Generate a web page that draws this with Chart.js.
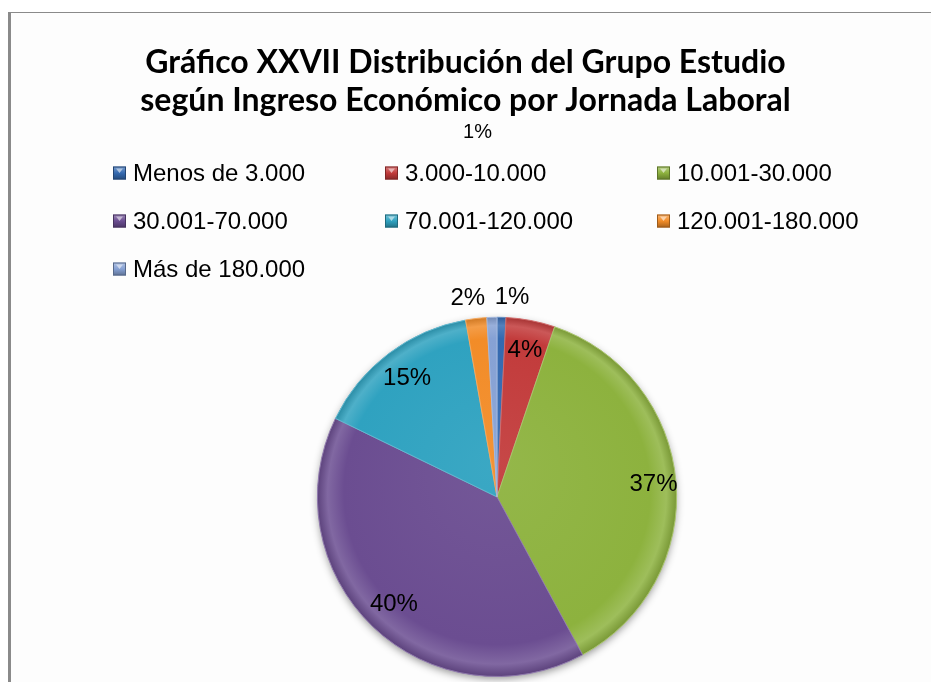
<!DOCTYPE html>
<html lang="es">
<head>
  <meta charset="UTF-8">
  <title>Gráfico XXVII</title>
  <style>
    html, body {
      margin: 0;
      padding: 0;
      background: #ffffff;
    }
    #frame {
      position: absolute;
      left: 8px;
      top: 12px;
      width: 923px;
      height: 670px;
      border-left: 3px solid #8a8a8a;
      border-top: 1px solid #8a8a8a;
      background: #fdfdfd;
    }
    #wrap {
      position: absolute;
      left: 0;
      top: 0;
      width: 931px;
      height: 682px;
    }
  </style>
  <script src="https://cdn.jsdelivr.net/npm/chart.js@4"></script>
</head>
<body>
  <div id="frame"></div>
  <div id="wrap"><canvas id="chart"></canvas></div>

  <script>
    // datos (porcentaje del grupo)
    const categories = ['Menos de 3.000', '3.000-10.000', '10.001-30.000', '30.001-70.000',
                        '70.001-120.000', '120.001-180.000', 'Más de 180.000'];
    const percents = [0.8, 4.4, 36.9, 40.1, 15.0, 1.9, 0.9];
    const sliceColors = ['#3469b0', '#c23b3b', '#8db23e', '#6b4d91', '#2fa2c0', '#f28c28', '#86a1d4'];
    const titleLines = ['Gráfico XXVII Distribución del Grupo Estudio',
                        'según Ingreso Económico por Jornada Laboral'];

    // donde va cada etiqueta: dentro, fuera o arriba (como la puso Excel)
    const labelPlace = ['out', 'in', 'in', 'in', 'in', 'out', 'top'];
    const labelNudge = [10, 0, 8, 0, 0, -6, 0];

    function shade(hex, amt) {
      const n = parseInt(hex.slice(1), 16);
      let r = (n >> 16) & 255, g = (n >> 8) & 255, b = n & 255;
      const f = v => Math.max(0, Math.min(255, Math.round(amt > 0 ? v + (255 - v) * amt : v * (1 + amt))));
      return `rgb(${f(r)}, ${f(g)}, ${f(b)})`;
    }

    // espacio a la izquierda para que el pastel quede algo a la derecha del título
    const leftSpacer = {
      id: 'leftSpacer',
      beforeInit(chart) {
        Chart.layouts.addBox(chart, {
          position: 'left', weight: 0, fullSize: false, options: {},
          left: 0, top: 0, right: 0, bottom: 0, width: 0, height: 0,
          update(maxW, maxH) { this.width = 63; this.height = maxH; },
          isHorizontal() { return false; },
          draw() {}
        });
      }
    };

    // sombra suave debajo del pastel
    const pieShadow = {
      id: 'pieShadow',
      beforeDatasetsDraw(chart) {
        const arc = chart.getDatasetMeta(0).data[0];
        if (!arc) return;
        const ctx = chart.ctx;
        ctx.save();
        ctx.shadowColor = 'rgba(0,0,0,0.45)';
        ctx.shadowBlur = 9;
        ctx.shadowOffsetY = 3;
        ctx.fillStyle = '#777';
        ctx.beginPath();
        ctx.arc(arc.x, arc.y, arc.outerRadius - 1, 0, Math.PI * 2);
        ctx.fill();
        ctx.restore();
      }
    };

    // leyenda en cuadrícula de 3 columnas
    const gridLegend = {
      id: 'gridLegend',
      afterDraw(chart, args, opts) {
        const ctx = chart.ctx;
        ctx.save();
        ctx.font = opts.font;
        ctx.textBaseline = 'middle';
        ctx.textAlign = 'left';
        categories.forEach((name, i) => {
          const col = i % opts.columns;
          const row = Math.floor(i / opts.columns);
          const x = opts.left + col * opts.colWidth;
          const y = opts.top + row * opts.rowHeight;
          const s = opts.box;
          const g = ctx.createLinearGradient(x, y - s / 2, x, y + s / 2);
          g.addColorStop(0, shade(sliceColors[i], 0.35));
          g.addColorStop(0.5, sliceColors[i]);
          g.addColorStop(1, shade(sliceColors[i], -0.3));
          ctx.fillStyle = g;
          ctx.fillRect(x, y - s / 2, s, s);
          ctx.strokeStyle = shade(sliceColors[i], -0.35);
          ctx.lineWidth = 1;
          ctx.strokeRect(x + 0.5, y - s / 2 + 0.5, s - 1, s - 1);
          ctx.fillStyle = shade(sliceColors[i], 0.6);
          ctx.beginPath();
          ctx.moveTo(x + 3, y - s / 2 + 2);
          ctx.lineTo(x + s - 3, y - s / 2 + 2);
          ctx.lineTo(x + s / 2, y);
          ctx.closePath();
          ctx.fill();
          ctx.fillStyle = '#000';
          ctx.fillText(name, x + s + opts.gap, y + 1);
        });
        ctx.restore();
      }
    };

    // etiquetas de porcentaje
    const pctLabels = {
      id: 'pctLabels',
      afterDraw(chart, args, opts) {
        const meta = chart.getDatasetMeta(0);
        const ctx = chart.ctx;
        const total = percents.reduce((a, b) => a + b, 0);
        ctx.save();
        ctx.fillStyle = '#000';
        ctx.textAlign = 'center';
        ctx.textBaseline = 'middle';
        meta.data.forEach((arc, i) => {
          const text = Math.round(percents[i] / total * 100) + '%';
          const mid = (arc.startAngle + arc.endAngle) / 2;
          let x, y;
          ctx.font = opts.font;
          if (labelPlace[i] === 'in') {
            const r = arc.outerRadius * 0.83;
            x = arc.x + Math.cos(mid) * r;
            y = arc.y + Math.sin(mid) * r;
          } else if (labelPlace[i] === 'out') {
            const r = arc.outerRadius + 20;
            x = arc.x + Math.cos(mid) * r;
            y = arc.y + Math.sin(mid) * r;
          } else {
            ctx.font = opts.smallFont;
            x = chart.titleBlock.left + chart.titleBlock.width / 2 + 12;
            y = opts.topY;
          }
          ctx.fillText(text, x + labelNudge[i], y);
        });
        ctx.restore();
      }
    };

    new Chart(document.getElementById('chart'), {
      type: 'pie',
      data: {
        labels: categories,
        datasets: [{
          data: percents,
          backgroundColor: function(context) {
            const c = sliceColors[context.dataIndex];
            const area = context.chart.chartArea;
            if (!area) return c;
            const cx = (area.left + area.right) / 2;
            const cy = (area.top + area.bottom) / 2;
            const r = Math.min(area.right - area.left, area.bottom - area.top) / 2;
            const g = context.chart.ctx.createRadialGradient(cx, cy - r * 0.2, 0, cx, cy, r);
            g.addColorStop(0, shade(c, 0.06));
            g.addColorStop(0.85, c);
            g.addColorStop(0.94, shade(c, 0.15));
            g.addColorStop(1, shade(c, -0.15));
            return g;
          },
          borderColor: sliceColors.map(c => shade(c, 0.25)),
          borderWidth: 1
        }]
      },
      options: {
        responsive: true,
        maintainAspectRatio: false,
        animation: false,
        rotation: 0,
        layout: {
          padding: { top: 0, left: 0, right: 0, bottom: 5 }
        },
        plugins: {
          title: {
            display: true,
            text: titleLines,
            color: '#000',
            font: { family: "Lato, 'DejaVu Sans Condensed', sans-serif", size: 32, weight: 'bold', lineHeight: 1.2 },
            padding: { top: 43, bottom: 197 }
          },
          legend: { display: false },
          tooltip: { enabled: false },
          gridLegend: {
            font: "24px 'Liberation Sans', Arial, sans-serif",
            columns: 3,
            left: 113,
            colWidth: 272,
            top: 173,
            rowHeight: 48,
            box: 13,
            gap: 7
          },
          pctLabels: {
            font: "24px 'Liberation Sans', Arial, sans-serif",
            smallFont: "20px 'Liberation Sans', Arial, sans-serif",
            topY: 132
          }
        }
      },
      plugins: [leftSpacer, pieShadow, gridLegend, pctLabels]
    });
  </script>
</body>
</html>
